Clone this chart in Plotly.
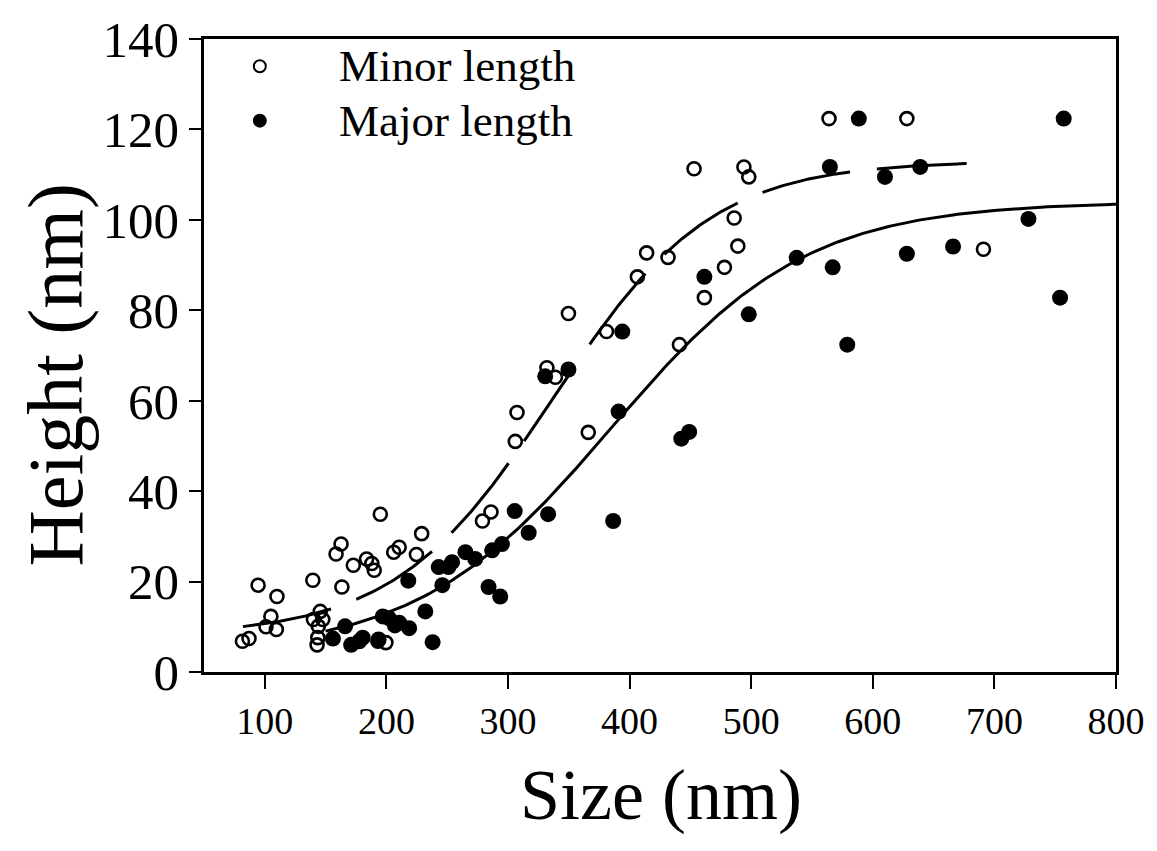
import numpy as np
import plotly.graph_objects as go

# Minor length measurements (size in nm, height in nm)
minor_size = [81.6, 87, 94.5, 101, 105, 109.5, 110, 139.5, 140, 143, 143.6, 144,
              145.6, 147.7, 158.6, 162.7, 163.4, 172.8, 183.7, 188, 190, 195, 193,
              199.6, 206, 210.5, 224.7, 229, 279, 286, 306, 307.4, 332, 339, 349.7,
              366, 381, 406.4, 414, 431.6, 441, 453, 461.5, 478, 486, 489, 494, 498,
              564, 628, 691]
minor_height = [6.8, 7.4, 19.2, 10, 12.3, 9.4, 16.7, 20.3, 11.6, 6, 7.6, 10.1,
                13.4, 11.6, 26.1, 28.3, 18.8, 23.6, 25, 24, 22.5, 34.9, 6.8,
                6.5, 26.5, 27.6, 26, 30.6, 33.4, 35.4, 51, 57.4, 67.3, 65.2, 79.3,
                53, 75.3, 87.4, 92.7, 91.7, 72.4, 111.3, 82.8, 89.5, 100.4, 94.2, 111.7, 109.5,
                122.4, 122.4, 93.5]

# Major length measurements
major_size = [156, 166, 171, 177.7, 180.5, 193.6, 197, 202, 207, 210.5, 218, 218.7,
              232, 238, 243, 246, 251, 254, 265, 273, 284, 287, 293.6, 295, 305.5,
              317, 330.6, 333, 349.7, 386.5, 391, 394, 442.5, 449, 461.5, 498, 537.4,
              564.7, 567, 579, 588.5, 610, 628, 639, 666, 728, 754, 757]
major_height = [7.4, 10.1, 6, 6.8, 7.6, 7.2, 12.3, 11.9, 10.3, 10.9, 20.2, 9.7,
                13.4, 6.6, 23.2, 19.2, 23.2, 24.3, 26.5, 25, 18.8, 26.9, 16.7, 28.3, 35.6,
                30.8, 65.4, 34.9, 66.9, 33.4, 57.6, 75.3, 51.6, 53.1, 87.4, 79.1, 91.6,
                111.7, 89.5, 72.4, 122.4, 109.5, 92.5, 111.7, 94.1, 100.2, 82.8, 122.4]

# Sigmoid regression parameters: base, amplitude, midpoint, slope
minor_fit = dict(y0=8.0, a=105.0, x0=337.0, b=65.0, xmin=82, xmax=692)
major_fit = dict(y0=4.0, a=100.0, x0=385.0, b=80.0, xmin=150, xmax=800)

x_ticks = [100, 200, 300, 400, 500, 600, 700, 800]
y_ticks = [0, 20, 40, 60, 80, 100, 120, 140]

SERIF = "Liberation Serif, Times New Roman, serif"


def sigmoid_curve(p):
    xs = np.linspace(p["xmin"], p["xmax"], 300)
    ys = p["y0"] + p["a"] / (1.0 + np.exp(-(xs - p["x0"]) / p["b"]))
    return xs, ys


fig = go.Figure()

mx, my = sigmoid_curve(minor_fit)
fig.add_trace(go.Scatter(x=mx, y=my, mode="lines",
                         line=dict(color="black", width=3, dash="90px,27px"),
                         hoverinfo="skip"))
jx, jy = sigmoid_curve(major_fit)
fig.add_trace(go.Scatter(x=jx, y=jy, mode="lines",
                         line=dict(color="black", width=3),
                         hoverinfo="skip"))

fig.add_trace(go.Scatter(x=minor_size, y=minor_height, mode="markers", name="Minor length",
                         marker=dict(symbol="circle-open", size=13, color="black",
                                     line=dict(color="black", width=2.6))))
fig.add_trace(go.Scatter(x=major_size, y=major_height, mode="markers", name="Major length",
                         marker=dict(symbol="circle", size=16, color="black")))

# Legend drawn inside the top-left corner of the frame
legend_items = [("Minor length", 0.957, "white"), ("Major length", 0.871, "black")]
for label, ypos, fill in legend_items:
    fig.add_shape(type="circle", xref="paper", yref="paper",
                  xsizemode="pixel", ysizemode="pixel",
                  xanchor=0.0612, yanchor=ypos, x0=-6, x1=6, y0=-6, y1=6,
                  line=dict(color="black", width=2), fillcolor=fill)
    fig.add_annotation(text=label, xref="paper", yref="paper", x=0.146, y=ypos,
                       xanchor="left", yanchor="middle", showarrow=False,
                       font=dict(family=SERIF, size=45, color="black"))

fig.add_annotation(text="Height (nm)", xref="paper", yref="paper", x=-0.163, y=0.469,
                   xanchor="center", yanchor="middle", textangle=-90, showarrow=False,
                   font=dict(family=SERIF, size=78, color="black"))
fig.add_annotation(text="Size (nm)", xref="paper", yref="paper", x=0.501, y=-0.195,
                   xanchor="center", yanchor="middle", showarrow=False,
                   font=dict(family=SERIF, size=72, color="black"))

fig.update_layout(
    width=1157, height=851,
    margin=dict(l=204, r=37, t=32, b=179),
    paper_bgcolor="white", plot_bgcolor="white",
    showlegend=False,
)
fig.update_xaxes(range=[50, 800], tickvals=x_ticks, ticks="outside", ticklen=14, tickwidth=2,
                 tickcolor="black", showline=True, linewidth=2.5, linecolor="black",
                 mirror=True, showgrid=False, zeroline=False,
                 tickfont=dict(family=SERIF, size=38, color="black"))
fig.update_yaxes(range=[0, 140], tickvals=y_ticks, ticks="outside", ticklen=12, tickwidth=2,
                 tickcolor="black", showline=True, linewidth=2.5, linecolor="black",
                 mirror=True, showgrid=False, zeroline=False,
                 tickfont=dict(family=SERIF, size=51, color="black"))

fig.write_html("out.html")
